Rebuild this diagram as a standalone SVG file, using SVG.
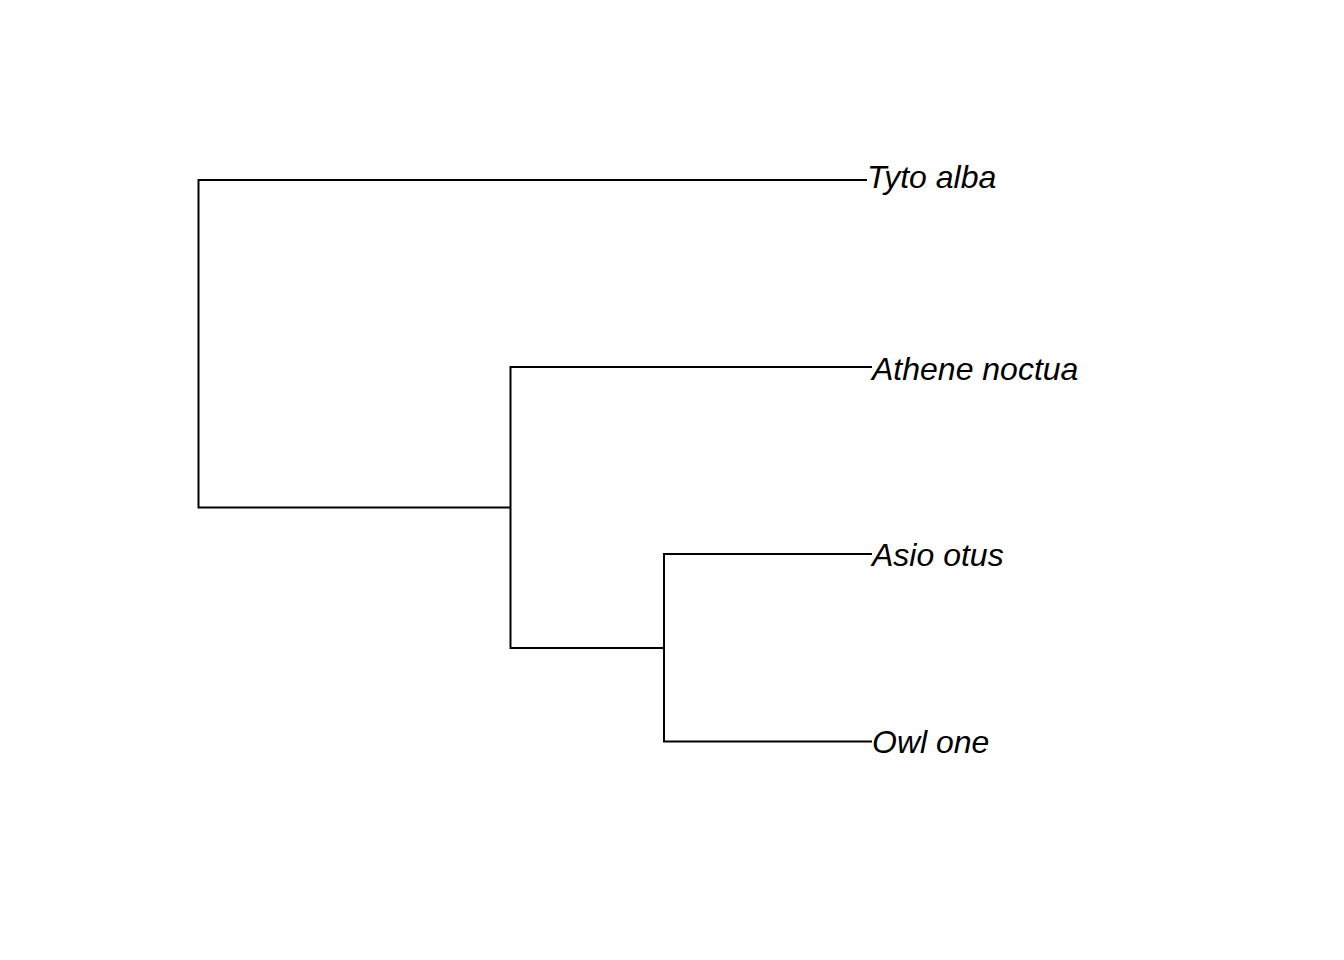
<svg xmlns="http://www.w3.org/2000/svg" width="1344" height="960" viewBox="0 0 1344 960">
<style>
.e{fill:none;stroke:#000;stroke-width:2;stroke-linecap:butt;stroke-linejoin:miter}
.t{font-family:"Liberation Sans",Arial,sans-serif;font-style:italic;font-size:32px;fill:#000}
</style>
<rect width="1344" height="960" fill="#fff"/>
<g id="connectors">
<path class="e" d="M867,180 H198.5 V507.5 H510.5"/>
<path class="e" d="M872,367 H510.5 V648 H664"/>
<path class="e" d="M872,554 H664 V741.5 H872"/>
</g>
<g id="tyto"><text class="t" x="867" y="188">Tyto alba</text></g>
<g id="athene"><text class="t" x="872" y="380">Athene noctua</text></g>
<g id="asio"><text class="t" x="872" y="566">Asio otus</text></g>
<g id="owl"><text class="t" x="872" y="753">Owl one</text></g>
</svg>
